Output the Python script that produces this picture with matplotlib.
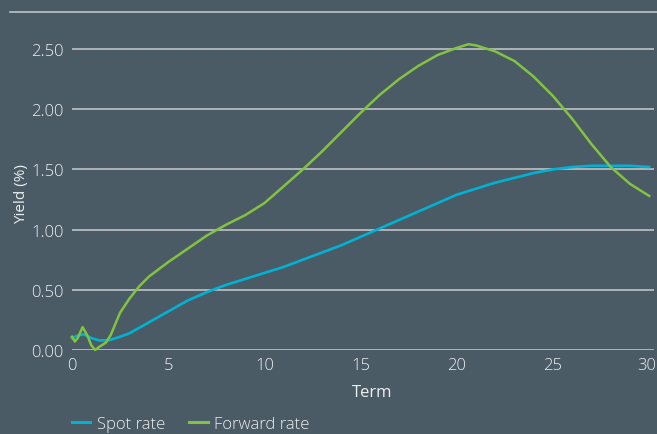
import matplotlib
matplotlib.use("Agg")
import matplotlib.pyplot as plt
from matplotlib.lines import Line2D
from matplotlib.transforms import ScaledTranslation

# term structure (years, % yield)
spot_terms = [0, 0.3, 0.6, 1.0, 1.4, 1.9, 2.5, 3, 4, 5, 6, 7, 8, 9, 10, 11, 12, 13, 14, 15,
              16, 17, 18, 19, 20, 21, 22, 23, 24, 25, 26, 27, 28, 29, 30]
spot_rate = [0.10, 0.12, 0.13, 0.10, 0.08, 0.08, 0.11, 0.14, 0.23, 0.32, 0.41, 0.48, 0.54, 0.59,
             0.64, 0.69, 0.75, 0.81, 0.87, 0.94, 1.01, 1.08, 1.15, 1.22, 1.29, 1.34, 1.39, 1.43,
             1.47, 1.50, 1.52, 1.53, 1.53, 1.53, 1.52]

fwd_terms = [0, 0.15, 0.3, 0.55, 0.8, 1.0, 1.2, 1.45, 1.75, 2.0, 2.5, 3.0, 3.5, 4.0, 4.5, 5,
             6, 7, 8, 9, 10, 11, 12, 13, 14, 15, 16, 17, 18, 19, 20, 20.6, 21, 22, 23, 24,
             25, 26, 27, 28, 29, 30]
fwd_rate = [0.11, 0.07, 0.10, 0.19, 0.12, 0.04, 0.00, 0.03, 0.06, 0.12, 0.31, 0.43, 0.53, 0.61,
            0.67, 0.73, 0.84, 0.95, 1.04, 1.12, 1.22, 1.36, 1.50, 1.65, 1.81, 1.97, 2.12, 2.25,
            2.36, 2.45, 2.51, 2.54, 2.53, 2.48, 2.40, 2.27, 2.11, 1.92, 1.71, 1.52, 1.38, 1.28]

x_ticks = [0, 5, 10, 15, 20, 25, 30]
y_ticks = [0.0, 0.5, 1.0, 1.5, 2.0, 2.5]

BG = "#4b5b66"
GRID = "#c8cbcd"
TXT = "#eceeef"
SPOT_C = "#00b2d3"
FWD_C = "#82c341"

plt.rcParams["font.family"] = ["Open Sans", "DejaVu Sans"]
plt.rcParams["font.weight"] = "light"
plt.rcParams["font.size"] = 12

fig = plt.figure(figsize=(6.57, 4.35), dpi=100, facecolor=BG)
ax = fig.add_axes([72 / 657, 1 - 351 / 435, 582 / 657, 313 / 435], facecolor=BG)

ax.plot(spot_terms, spot_rate, color=SPOT_C, lw=1.9, label="Spot rate", clip_on=False, zorder=3)
ax.plot(fwd_terms, fwd_rate, color=FWD_C, lw=1.8, label="Forward rate", clip_on=False, zorder=4)

ax.set_xlim(0, 30.25)
ax.set_ylim(0, 2.6)
ax.set_xticks(x_ticks)
ax.set_xticklabels([str(t) for t in x_ticks])
ax.set_yticks(y_ticks)
ax.set_yticklabels([f"{v:.2f}" for v in y_ticks])
ax.tick_params(length=0, colors=TXT, labelsize=12)
ax.tick_params(axis="y", pad=6)
ax.tick_params(axis="x", pad=5)
for s in ax.spines.values():
    s.set_visible(False)
ax.grid(axis="y", color=GRID, lw=1.1)
ax.set_axisbelow(True)

# nudge the last x label so it stays inside the figure
last = ax.get_xticklabels()[-1]
last.set_transform(last.get_transform() + ScaledTranslation(-3 / 100, 0, fig.dpi_scale_trans))

ax.set_xlabel("Term", color=TXT, fontsize=12)
ax.xaxis.set_label_coords(0.515, -0.108)
ax.set_ylabel("Yield (%)", color=TXT, fontsize=11)
ax.yaxis.set_label_coords(-0.074, 0.5)

# rule under the (cropped) heading
fig.add_artist(Line2D([10 / 657, 1], [1 - 13 / 435] * 2, color=GRID, lw=1.1))

leg = fig.legend(loc="lower left", bbox_to_anchor=(72 / 657, 0.004), ncol=2, frameon=False,
                 handlelength=1.1, handletextpad=0.4, columnspacing=1.45,
                 borderpad=0, borderaxespad=0, fontsize=12)
for t in leg.get_texts():
    t.set_color(TXT)
for h in leg.legend_handles:
    h.set_linewidth(2.2)

fig.savefig("out.png", dpi=100, facecolor=BG)
